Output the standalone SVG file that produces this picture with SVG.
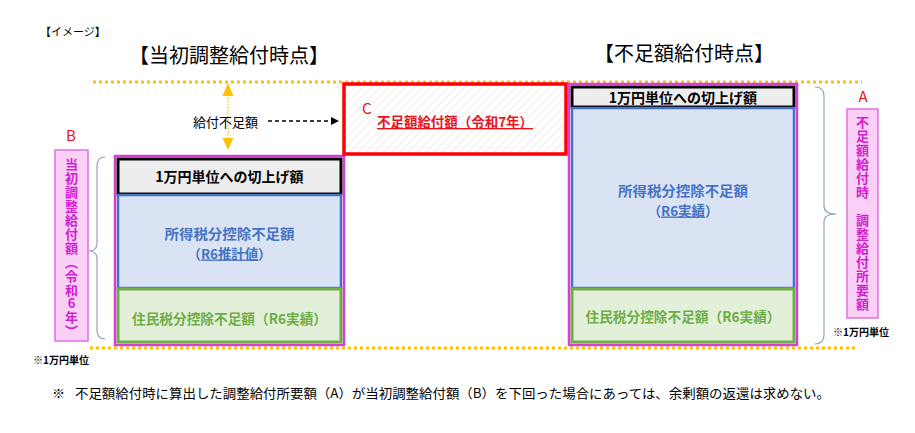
<svg xmlns="http://www.w3.org/2000/svg" width="915" height="433" viewBox="0 0 915 433">
<style>
text{font-family:"Noto Sans CJK JP","Noto Sans",sans-serif;}
.t-title{font-size:20px;fill:#000;}
.t-small{font-size:11px;fill:#000;}
.t-note{font-size:10px;fill:#000;font-weight:bold;}
.b{font-weight:bold;}
.gray{fill:#EDEDED;stroke:#000;stroke-width:3;}
.blue{fill:#DAE3F3;stroke:#4472C4;stroke-width:2.5;}
.green{fill:#E2F0D9;stroke:#70AD47;stroke-width:3;}
.outer{fill:none;stroke:#D63FD6;stroke-width:2.5;}
.tb{fill:#4472C4;font-weight:bold;font-size:13.4px;text-anchor:middle;}
.tg{fill:#70AD47;font-weight:bold;font-size:14px;text-anchor:middle;}
.tk{fill:#000;font-weight:bold;font-size:14px;text-anchor:middle;}
.red{fill:#E8141C;}
.vert{fill:#D020D0;font-weight:bold;font-size:13px;writing-mode:vertical-rl;text-orientation:upright;}
.pinkbox{fill:#FBD0F6;stroke:#E070E0;stroke-width:1.5;}
.dots{stroke:#FFC000;stroke-width:3;stroke-dasharray:3 3;fill:none;}
.brace{fill:none;stroke:#8EA4C4;stroke-width:1.2;}
</style>
<defs>
<pattern id="hatch" width="6" height="6" patternUnits="userSpaceOnUse" patternTransform="rotate(45)">
<rect width="6" height="6" fill="#FFFFFF"/>
<line x1="0" y1="0" x2="0" y2="6" stroke="#EADFDF" stroke-width="1.2"/>
</pattern>
<marker id="arrBlack" markerWidth="8" markerHeight="8" refX="7" refY="4" orient="auto" markerUnits="userSpaceOnUse">
<path d="M0,0 L8,4 L0,8 Z" fill="#000"/>
</marker>
</defs>

<g id="titles">
<text class="t-title" x="229" y="63" text-anchor="middle">【当初調整給付時点】</text>
<text class="t-title" x="684" y="61" text-anchor="middle">【不足額給付時点】</text>
<text class="t-small" x="40" y="36">【イメージ】</text>
</g>

<g id="guides">
<line class="dots" x1="93" y1="82" x2="862" y2="82"/>
<line class="dots" x1="90" y1="348" x2="858" y2="348"/>
</g>

<g id="node-initial">
<rect class="gray" x="118" y="159" width="223" height="35"/>
<text class="tk" x="229.5" y="182">1万円単位への切上げ額</text>
<rect class="blue" x="118" y="195" width="223" height="93"/>
<text class="tb" x="229.5" y="238.5" textLength="130" lengthAdjust="spacingAndGlyphs">所得税分控除不足額</text>
<text class="tb" x="229.5" y="258.5">（<tspan text-decoration="underline">R6推計値</tspan>）</text>
<rect class="green" x="118" y="289" width="223" height="53"/>
<text class="tg" x="229.5" y="324" textLength="195" lengthAdjust="spacingAndGlyphs">住民税分控除不足額（R6実績）</text>
<rect class="outer" x="115" y="156" width="229" height="189"/>
</g>

<g id="node-C">
<rect x="344" y="84" width="222" height="70" fill="url(#hatch)" stroke="#FF0000" stroke-width="3.5"/>
<text class="red" x="362" y="114" font-size="15">C</text>
<text class="red b" x="377" y="127" font-size="13.5" text-decoration="underline" textLength="156" lengthAdjust="spacingAndGlyphs">不足額給付額（令和7年）</text>
</g>

<g id="node-final">
<rect class="gray" x="572" y="87" width="222" height="20"/>
<text class="tk" x="683" y="103" font-size="13.5">1万円単位への切上げ額</text>
<rect class="blue" x="572" y="108" width="222" height="180"/>
<text class="tb" x="683" y="195.5" textLength="130" lengthAdjust="spacingAndGlyphs">所得税分控除不足額</text>
<text class="tb" x="683" y="215.5">（<tspan text-decoration="underline">R6実績</tspan>）</text>
<rect class="green" x="572" y="289" width="222" height="53"/>
<text class="tg" x="683" y="322" textLength="195" lengthAdjust="spacingAndGlyphs">住民税分控除不足額（R6実績）</text>
<rect class="outer" x="569" y="84" width="228" height="261"/>
</g>

<g id="label-B">
<text class="red" x="71" y="141" font-size="15" text-anchor="middle">B</text>
<rect class="pinkbox" x="55" y="150" width="33" height="191"/>
<text class="vert" x="71.5" y="158" letter-spacing="0.9">当初調整給付額（令和6年）</text>
<text class="t-note" x="33" y="364">※1万円単位</text>
</g>

<g id="label-A">
<text class="red" x="863" y="102" font-size="15" text-anchor="middle">A</text>
<rect class="pinkbox" x="847" y="109" width="31" height="209"/>
<text class="vert" x="862.5" y="116" letter-spacing="1">不足額給付時　調整給付所要額</text>
<text class="t-note" x="833" y="336">※1万円単位</text>
</g>

<g id="connectors">
<line x1="228" y1="95" x2="228" y2="139" stroke="#FFC000" stroke-width="1.2" stroke-dasharray="1.5 1.5"/>
<path d="M228,83 L233.5,96 L222.5,96 Z" fill="#FFC000"/>
<path d="M228,150 L233.5,138 L222.5,138 Z" fill="#FFC000"/>
<line x1="268" y1="121" x2="338" y2="121" stroke="#000" stroke-width="1.3" stroke-dasharray="4 3" marker-end="url(#arrBlack)"/>
<path class="brace" d="M105,157 Q97,157 97,166 L97,243 Q97,251 89,251 Q97,251 97,259 L97,330 Q97,339 105,339"/>
<path class="brace" d="M815,87 Q824,87 824,96 L824,206 Q824,214 836,214 Q824,214 824,222 L824,335 Q824,344 815,344"/>
</g>

<g id="notes">
<text x="225.5" y="127" font-size="13" fill="#000" text-anchor="middle">給付不足額</text>
<text x="52" y="398" font-size="13" fill="#000">※</text>
<text x="75" y="398" font-size="13" fill="#000" textLength="755" lengthAdjust="spacingAndGlyphs">不足額給付時に算出した調整給付所要額（A）が当初調整給付額（B）を下回った場合にあっては、余剰額の返還は求めない。</text>
</g>
</svg>
